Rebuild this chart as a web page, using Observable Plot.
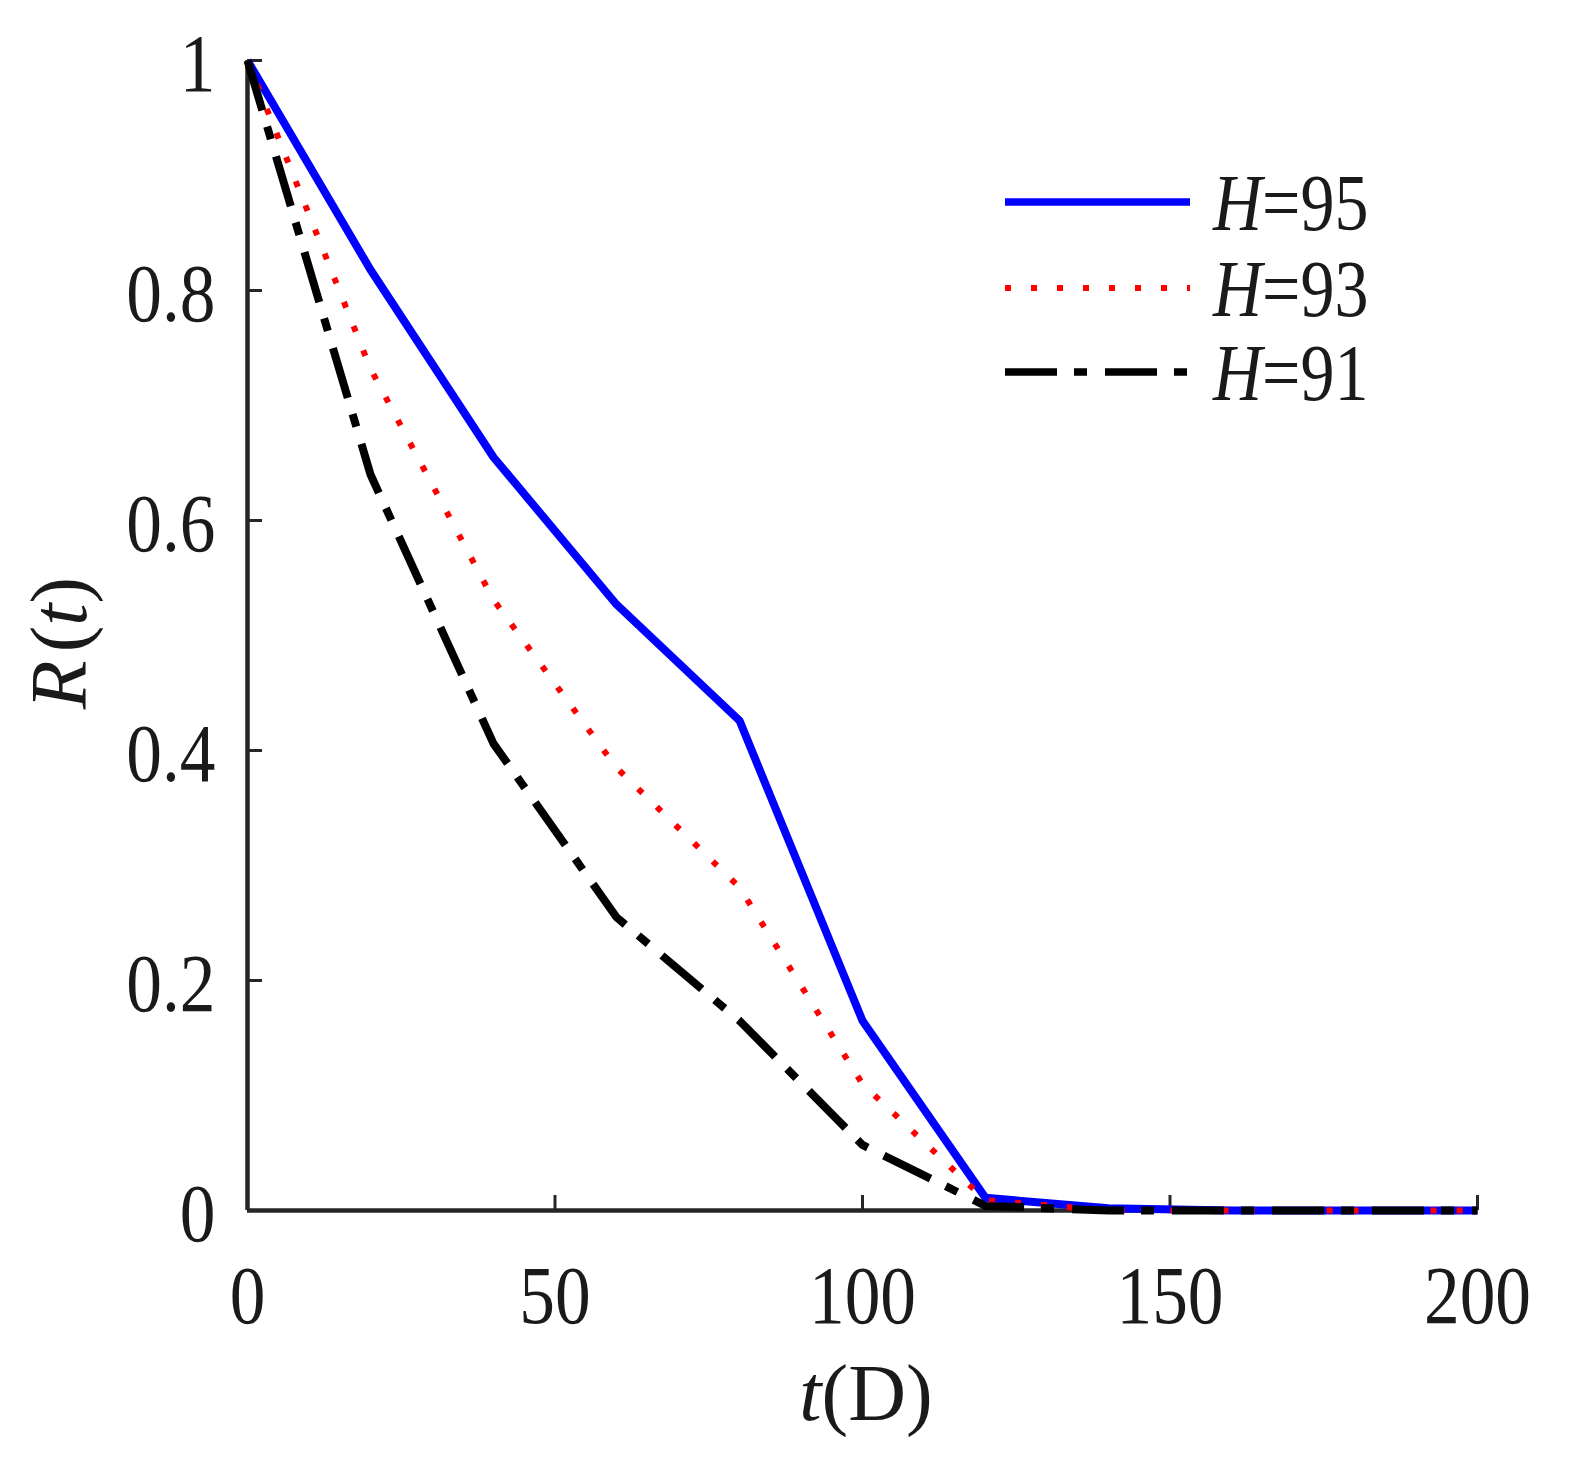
<!DOCTYPE html>
<html><head><meta charset="utf-8">
<script src="https://cdn.jsdelivr.net/npm/d3@7"></script>
<script src="https://cdn.jsdelivr.net/npm/@observablehq/plot@0.6"></script>
<style>
html,body{margin:0;padding:0;background:#fff;overflow:hidden;}
#chart svg{display:block;}
</style>
</head><body><div id="chart"></div>
<script>
// ---- data ----
const tValues = [0, 20, 40, 60, 80, 100, 120, 140, 160, 180, 200];
const rH95 = [1, 0.818, 0.655, 0.527, 0.426, 0.165, 0.011, 0.002, 0, 0, 0];
const rH93 = [1, 0.732, 0.531, 0.385, 0.281, 0.110, 0.009, 0, 0, 0, 0];
const rH91 = [1, 0.640, 0.406, 0.255, 0.165, 0.057, 0.004, 0, 0, 0, 0];
const seriesNames = ["95", "93", "91"];
const xTicks = [0, 50, 100, 150, 200];
const yTicks = [0, 0.2, 0.4, 0.6, 0.8, 1];
const yTickLabels = ["0", "0.2", "0.4", "0.6", "0.8", "1"];

const FONT = "'Liberation Serif','Times New Roman',serif";
const AXIS = "#262626";
const rows = vals => tValues.map((t, i) => ({t, r: vals[i]}));
const styles = [
  {stroke: "#0000ff", strokeWidth: 8, strokeDasharray: null},
  {stroke: "#ff0000", strokeWidth: 6, strokeDasharray: "6,20"},
  {stroke: "#000000", strokeWidth: 8, strokeDasharray: "52,17,13,18"}
];
const seriesVals = [rH95, rH93, rH91];

const plot = Plot.plot({
  width: 1574, height: 1476,
  marginLeft: 247, marginRight: 97, marginTop: 60, marginBottom: 266,
  style: {fontFamily: FONT, fontSize: "82px", color: "#1a1a1a", background: "#fff"},
  x: {domain: [0, 200]},
  y: {domain: [0, 1]},
  marks: [
    Plot.ruleX([0], {stroke: AXIS, strokeWidth: 4.5}),
    Plot.ruleY([0], {stroke: AXIS, strokeWidth: 4.5}),
    Plot.axisY(yTicks, {tickSize: -15, strokeWidth: 3, stroke: AXIS, tickFormat: () => "", label: null}),
    Plot.axisX(xTicks, {tickSize: -15, strokeWidth: 3, stroke: AXIS, tickFormat: () => "", label: null}),
    Plot.axisY(yTicks, {tickSize: 0, tickPadding: 32, fontSize: 82, fill: "#1a1a1a", dy: 4,
      tickFormat: d => yTickLabels[yTicks.indexOf(d)], label: null}),
    Plot.axisX(xTicks, {tickSize: 0, tickPadding: 54, fontSize: 82, fill: "#1a1a1a", label: null}),
    ...seriesVals.map((v, i) => Plot.line(rows(v), {x: "t", y: "r",
      stroke: styles[i].stroke, strokeWidth: styles[i].strokeWidth,
      strokeDasharray: styles[i].strokeDasharray, strokeLinecap: "butt", strokeLinejoin: "miter"}))
  ]
});

// condense tick labels horizontally (reference face is narrower); keep the em-based y offset
function condense(el, s) {
  const xa = el.getAttribute("x");
  const x = xa && !isNaN(+xa) ? +xa : 0;
  if (xa && !isNaN(+xa)) el.removeAttribute("x");
  const tr = el.getAttribute("transform") || "";
  el.setAttribute("transform", `${tr} translate(${x},0) scale(${s},1)`);
}
plot.querySelectorAll("text").forEach(el => condense(el, 0.87));

const svg = d3.select(plot);
// axis titles
const yl = svg.append("text").attr("font-family", FONT).attr("font-size", 80).attr("fill", "#1a1a1a")
  .attr("text-anchor", "middle").attr("transform", "translate(86,643) rotate(-90)");
yl.append("tspan").attr("font-style", "italic").text("R");
yl.append("tspan").attr("dx", 8).text("(");
yl.append("tspan").attr("font-style", "italic").text("t");
yl.append("tspan").text(")");

const xl = svg.append("text").attr("font-family", FONT).attr("font-size", 80).attr("fill", "#1a1a1a")
  .attr("text-anchor", "middle").attr("x", 866).attr("y", 1420);
xl.append("tspan").attr("font-style", "italic").text("t");
xl.append("tspan").text("(D)");

// legend
const legY = [202, 288, 372];
seriesNames.forEach((name, i) => {
  svg.append("line").attr("x1", 1005).attr("x2", 1190).attr("y1", legY[i]).attr("y2", legY[i])
    .attr("stroke", styles[i].stroke).attr("stroke-width", i === 1 ? 6 : 7.5)
    .attr("stroke-dasharray", styles[i].strokeDasharray);
  const t = svg.append("text").attr("font-family", FONT).attr("font-size", 80).attr("fill", "#1a1a1a")
    .attr("text-anchor", "start")
    .attr("transform", `translate(1213,${legY[i] + 28}) scale(0.85,1)`);
  t.append("tspan").attr("font-style", "italic").text("H");
  t.append("tspan").text("=" + name);
});

document.getElementById("chart").appendChild(plot);
</script>
</body></html>
